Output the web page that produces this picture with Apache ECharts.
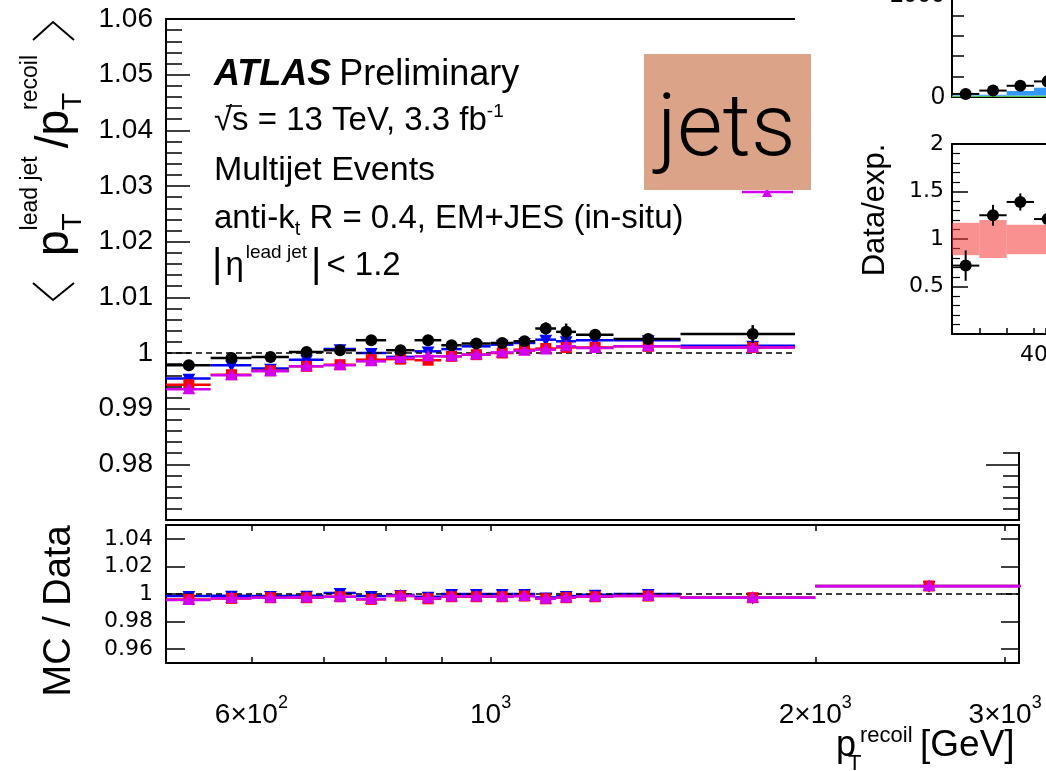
<!DOCTYPE html>
<html>
<head>
<meta charset="utf-8">
<script src="https://cdn.jsdelivr.net/npm/echarts@6/dist/echarts.min.js"></script>
<style>
html,body{margin:0;padding:0;background:#fff;}
#chart{width:1046px;height:771px;}
</style>
</head>
<body>
<div id="chart"></div>
<script>
// ---- bins of recoil pT [GeV] ----
const binEdges = [500, 550, 600, 650, 700, 750, 800, 850, 900, 940, 1000, 1050, 1100, 1150, 1200, 1300, 1500, 2000, 3100];

// ---- <pT lead jet / pT recoil> ----
const dataResponse = [0.9978, 0.9991, 0.9993, 1.0002, 1.0005, 1.0023, 1.0005, 1.0023, 1.0014, 1.0017, 1.0018, 1.0021, 1.0044, 1.0038, 1.0033, 1.0025, 1.0034];
const dataError    = [0.0004, 0.0004, 0.0004, 0.0005, 0.0005, 0.0009, 0.0005, 0.0008, 0.0005, 0.0005, 0.0005, 0.0006, 0.0011, 0.0015, 0.0009, 0.0007, 0.0016];
const mcBlueResponse    = [0.9954, 0.9978, 0.9972, 0.9988, 1.0007, 1.0000, 0.9993, 1.0003, 1.0007, 1.0012, 1.0015, 1.0018, 1.0024, 1.0021, 1.0023, 1.0023, 1.0013];
const mcRedResponse     = [0.9943, 0.9961, 0.9968, 0.9976, 0.9979, 0.9988, 0.9989, 0.9987, 0.9994, 0.9997, 1.0000, 1.0006, 1.0008, 1.0010, 1.0010, 1.0012, 1.0010];
const mcMagentaResponse = [0.9935, 0.9960, 0.9967, 0.9976, 0.9978, 0.9985, 0.9991, 0.9994, 0.9994, 0.9997, 1.0001, 1.0004, 1.0006, 1.0012, 1.0009, 1.0012, 1.0010];

// ---- MC / Data ----
const mcBlueRatio    = [0.9985, 0.9988, 0.9985, 0.9988, 1.0008, 0.9985, 0.9993, 0.9980, 1.0000, 1.0000, 1.0000, 1.0000, 0.9975, 0.9985, 0.9995, 1.0000, 0.9973, 1.0058];
const mcRedRatio     = [0.9960, 0.9968, 0.9973, 0.9973, 0.9980, 0.9961, 0.9985, 0.9965, 0.9980, 0.9980, 0.9980, 0.9985, 0.9965, 0.9973, 0.9980, 0.9985, 0.9973, 1.0058];
const mcMagentaRatio = [0.9956, 0.9970, 0.9973, 0.9975, 0.9980, 0.9963, 0.9987, 0.9968, 0.9982, 0.9982, 0.9981, 0.9985, 0.9966, 0.9975, 0.9981, 0.9986, 0.9973, 1.0057];

// ---- axis ticks ----
const ptTicks = [600, 700, 800, 900, 1000, 2000, 3000];
const ptLabelValues = [600, 1000, 2000, 3000];
const ptLabelText = { 600: ['6×10', '2'], 1000: ['10', '3'], 2000: ['2×10', '3'], 3000: ['3×10', '3'] };
const ratioTicks = [0.96, 0.98, 1, 1.02, 1.04];

// ---- small side panel (events and Data/exp.) ----
const sideEdges = [25, 30, 35, 40, 45];
const sideEvents = [30, 63, 110, 153];
const sideEventsErr = [6, 8, 11, 12];
const sideGreen = [12, 12, 14, 16];
const sideBlue = [5, 10, 45, 75];
const sideRatio = [0.72, 1.25, 1.39, 1.21];
const sideRatioErr = [0.16, 0.11, 0.09, 0.09];
const sideBandLow = [0.83, 0.80, 0.84, 0.84];
const sideBandHigh = [1.17, 1.20, 1.15, 1.15];
const sideCountLabels = [0, 1000];
const sideRatioLabels = [0.5, 1, 1.5, 2];

const FONT = '"Liberation Sans", Arial, Helvetica, sans-serif';
const WIDE = '"DejaVu Sans", sans-serif';
const BLUE = '#0000ff', RED = '#ff0000', MAG = '#d200f0', BLACK = '#000000';

const chart = echarts.init(document.getElementById('chart'), null, { renderer: 'canvas' });

function marker(kind, x, y, color, s) {
  if (kind === 'circle') return { type: 'circle', shape: { cx: x, cy: y, r: s / 2 }, style: { fill: color } };
  if (kind === 'square') return { type: 'rect', shape: { x: x - s / 2, y: y - s / 2, width: s, height: s }, style: { fill: color } };
  if (kind === 'up') return { type: 'polygon', shape: { points: [[x, y - s * 0.62], [x - s * 0.58, y + s * 0.45], [x + s * 0.58, y + s * 0.45]] }, style: { fill: color } };
  return { type: 'polygon', shape: { points: [[x, y + s * 0.62], [x - s * 0.58, y - s * 0.45], [x + s * 0.58, y - s * 0.45]] }, style: { fill: color } };
}

// binned points: horizontal bar over the bin, vertical error bar, marker at the bin centre
function binned(edges, values, errors, color, kind, xi, yi, z, size, lw) {
  const data = values.map((v, i) => [edges[i], edges[i + 1], (edges[i] + edges[i + 1]) / 2, v, errors ? errors[i] : 0]);
  return {
    type: 'custom', xAxisIndex: xi, yAxisIndex: yi, z: z, silent: true, animation: false,
    data: data, encode: { x: [0, 1], y: 3 },
    renderItem(params, api) {
      const y = api.value(3), xc = api.value(2), e = api.value(4);
      const a = api.coord([api.value(0), y]), b = api.coord([api.value(1), y]), c = api.coord([xc, y]);
      const kids = [{ type: 'line', shape: { x1: a[0], y1: a[1], x2: b[0], y2: b[1] }, style: { stroke: color, lineWidth: lw } }];
      if (e > 0) {
        const t = api.coord([xc, y + e]), d = api.coord([xc, y - e]);
        kids.push({ type: 'line', shape: { x1: c[0], y1: t[1], x2: c[0], y2: d[1] }, style: { stroke: color, lineWidth: lw } });
      }
      kids.push(marker(kind, c[0], c[1], color, size));
      return { type: 'group', children: kids };
    }
  };
}

// histogram boxes between two levels
function boxes(edges, lows, highs, fill, xi, yi, z) {
  const data = lows.map((l, i) => [edges[i], edges[i + 1], l, highs[i]]);
  return {
    type: 'custom', xAxisIndex: xi, yAxisIndex: yi, z: z, silent: true, animation: false,
    data: data, encode: { x: [0, 1], y: [2, 3] },
    renderItem(params, api) {
      const p0 = api.coord([api.value(0), api.value(3)]);
      const p1 = api.coord([api.value(1), api.value(2)]);
      return { type: 'rect', shape: { x: p0[0], y: p0[1], width: p1[0] - p0[0], height: p1[1] - p0[1] }, style: { fill: fill } };
    }
  };
}

function refLine(xi, yi, color, dash, z) {
  return {
    type: 'line', xAxisIndex: xi, yAxisIndex: yi, data: [], z: z, silent: true,
    markLine: { silent: true, symbol: 'none', label: { show: false }, animation: false,
      lineStyle: { color: color, type: dash, width: 1.6 }, data: [{ yAxis: 1 }] }
  };
}

// text laid out run by run (super/subscripts)
const mctx = document.createElement('canvas').getContext('2d');
function runs(x0, baseline, parts, z) {
  let x = x0, held = 0;
  const els = [];
  parts.forEach(p => {
    const fam = p.family || FONT, w = p.weight || 'normal', st = p.italic ? 'italic' : 'normal';
    mctx.font = st + ' ' + w + ' ' + p.size + 'px ' + fam;
    const width = mctx.measureText(p.text).width;
    const bl = baseline + (p.shift || 0);
    els.push({ type: 'text', z: z, x: x + (p.dx || 0), y: bl - 0.31 * p.size, silent: true,
      style: { text: p.text, fontSize: p.size, fontFamily: fam, fontWeight: w, fontStyle: st, fill: '#000', align: 'left', verticalAlign: 'middle' } });
    if (p.hold) { held = Math.max(held, width); }
    else { x += (p.dx || 0) + Math.max(width, held) + (p.gap || 0); held = 0; }
  });
  return els;
}

function yFmt(v) {
  const r = Math.round(v * 100) / 100;
  return String(r);
}

const axisLineBlack = { show: true, lineStyle: { color: '#000', width: 2 } };
const noTick = { show: false };
const noLabel = { show: false };

const xMain = { type: 'log', logBase: 10, min: 500, max: 3090, splitLine: { show: false }, axisLine: axisLineBlack };

const option = {
  animation: false,
  backgroundColor: '#fff',
  grid: [
    { left: 166, right: 27, top: 19, height: 501, outerBoundsMode: 'none', containLabel: false },
    { left: 166, right: 27, top: 525, height: 138, outerBoundsMode: 'none', containLabel: false },
    { left: 952, right: 0, top: -5, height: 102, outerBoundsMode: 'none', containLabel: false },
    { left: 952, right: 0, top: 144, height: 190, outerBoundsMode: 'none', containLabel: false }
  ],
  xAxis: [
    Object.assign({}, xMain, { gridIndex: 0, position: 'bottom', axisTick: noTick, axisLabel: noLabel }),
    Object.assign({}, xMain, { gridIndex: 0, position: 'top', axisTick: noTick, axisLabel: noLabel }),
    Object.assign({}, xMain, { gridIndex: 1, position: 'bottom',
      axisTick: { show: true, inside: true, length: 6, customValues: ptTicks, lineStyle: { color: '#000', width: 1.5 } },
      axisLabel: { show: true, customValues: ptLabelValues, margin: 31, color: '#000',
        formatter: v => { const t = ptLabelText[Math.round(v)]; return t ? '{m|' + t[0] + '}{s|' + t[1] + '}' : ''; },
        rich: { m: { fontSize: 28, fontFamily: FONT, color: '#000', lineHeight: 35, verticalAlign: 'bottom' },
                s: { fontSize: 18, fontFamily: FONT, color: '#000', lineHeight: 18, verticalAlign: 'top' } } } }),
    Object.assign({}, xMain, { gridIndex: 1, position: 'top',
      axisTick: { show: true, inside: true, length: 6, customValues: ptTicks, lineStyle: { color: '#000', width: 1.5 } },
      axisLabel: noLabel }),
    { type: 'value', gridIndex: 2, min: 25, max: 42.2, z: 60, splitLine: { show: false }, axisLine: axisLineBlack, axisTick: noTick, axisLabel: noLabel },
    { type: 'value', gridIndex: 3, min: 25, max: 42.2, interval: 5, z: 60, position: 'bottom', splitLine: { show: false }, axisLine: axisLineBlack,
      axisTick: { show: true, inside: true, length: 6, lineStyle: { color: '#000', width: 1.5 } },
      axisLabel: { show: true, customValues: [40], margin: 10, fontSize: 22, fontFamily: WIDE, color: '#000' } },
    { type: 'value', gridIndex: 3, min: 25, max: 42.2, z: 60, position: 'top', splitLine: { show: false }, axisLine: axisLineBlack, axisTick: noTick, axisLabel: noLabel }
  ],
  yAxis: [
    { type: 'value', gridIndex: 0, position: 'left', min: 0.97, max: 1.06, interval: 0.01, splitLine: { show: false }, axisLine: axisLineBlack,
      axisTick: { show: true, inside: true, length: 24, lineStyle: { color: '#000', width: 1.5 } },
      minorTick: { show: true, splitNumber: 5, length: 16, lineStyle: { color: '#000', width: 1.5 } },
      axisLabel: { show: true, margin: 13, fontSize: 28, fontFamily: FONT, color: '#000',
        formatter: v => (v < 0.975 ? '' : yFmt(v)) } },
    { type: 'value', gridIndex: 0, position: 'right', min: 0.97, max: 1.06, interval: 0.01, splitLine: { show: false }, axisLine: axisLineBlack,
      axisTick: { show: true, inside: true, length: 33, lineStyle: { color: '#000', width: 1.5 } },
      minorTick: { show: true, splitNumber: 5, length: 16, lineStyle: { color: '#000', width: 1.5 } },
      axisLabel: noLabel },
    { type: 'value', gridIndex: 1, position: 'left', min: 0.95, max: 1.05, splitLine: { show: false }, axisLine: axisLineBlack,
      axisTick: { show: true, inside: true, length: 19, customValues: ratioTicks, lineStyle: { color: '#000', width: 1.5 } },
      axisLabel: { show: true, customValues: ratioTicks, margin: 13, fontSize: 22, fontFamily: WIDE, color: '#000', formatter: v => yFmt(v) } },
    { type: 'value', gridIndex: 1, position: 'right', min: 0.95, max: 1.05, splitLine: { show: false }, axisLine: axisLineBlack,
      axisTick: { show: true, inside: true, length: 18, customValues: ratioTicks, lineStyle: { color: '#000', width: 1.5 } },
      axisLabel: noLabel },
    { type: 'value', gridIndex: 2, min: 0, max: 1000, interval: 200, z: 60, splitLine: { show: false }, axisLine: axisLineBlack,
      axisTick: { show: true, inside: true, length: 12, lineStyle: { color: '#000', width: 1.5 } },
      axisLabel: { show: true, customValues: sideCountLabels, margin: 7, fontSize: 25, fontFamily: FONT, color: '#000', formatter: v => String(v) } },
    { type: 'value', gridIndex: 3, min: 0, max: 2, interval: 0.5, z: 60, splitLine: { show: false }, axisLine: axisLineBlack,
      axisTick: { show: true, inside: true, length: 16, lineStyle: { color: '#000', width: 1.5 } },
      minorTick: { show: true, splitNumber: 5, length: 8, lineStyle: { color: '#000', width: 1.2 } },
      axisLabel: { show: true, customValues: sideRatioLabels, margin: 8, fontSize: 22, fontFamily: WIDE, color: '#000', formatter: v => String(v) } }
  ],
  series: [
    refLine(0, 0, '#000', [6, 4], 3),
    binned(binEdges, mcBlueResponse, null, BLUE, 'down', 0, 0, 4, 11, 2.5),
    binned(binEdges, mcRedResponse, null, RED, 'square', 0, 0, 5, 11, 2.5),
    binned(binEdges, mcMagentaResponse, null, MAG, 'up', 0, 0, 6, 11, 2.5),
    binned(binEdges, dataResponse, dataError, BLACK, 'circle', 0, 0, 7, 12, 2.5),

    refLine(2, 2, '#000', [6, 4], 3),
    binned(binEdges, mcBlueRatio, null, BLUE, 'down', 2, 2, 4, 11, 2.5),
    binned(binEdges, mcRedRatio, null, RED, 'square', 2, 2, 5, 11, 2.5),
    binned(binEdges, mcMagentaRatio, null, MAG, 'up', 2, 2, 6, 11, 2.5),

    boxes(sideEdges, [0, 0, 0, 0], sideGreen, '#4fbf4f', 4, 4, 61),
    boxes(sideEdges, sideGreen, sideGreen.map((g, i) => g + sideBlue[i]), '#3399ff', 4, 4, 61),
    binned(sideEdges, sideEvents, sideEventsErr, BLACK, 'circle', 4, 4, 62, 12, 2),

    boxes(sideEdges, sideBandLow, sideBandHigh, 'rgba(245,55,55,0.55)', 5, 5, 61),
    refLine(5, 5, '#ff0000', [5, 4], 62),
    binned(sideEdges, sideRatio, sideRatioErr, BLACK, 'circle', 5, 5, 63, 12, 2)
  ],
  graphic: []
};

const g = [];

// panel covering the upper right corner
g.push({ type: 'rect', z: 50, silent: true, shape: { x: 795, y: 0, width: 251, height: 452 }, style: { fill: '#fff' } });

// text block
g.push(...runs(214, 86, [
  { text: 'ATLAS', size: 36, weight: 'bold', italic: true, gap: 8 },
  { text: 'Preliminary', size: 36 }
], 10));
g.push(...runs(214, 131, [
  { text: '√s = 13 TeV, 3.3 fb', size: 33 },
  { text: '-1', size: 19, shift: -13 }
], 10));
g.push({ type: 'line', z: 10, silent: true, shape: { x1: 226, y1: 106, x2: 242, y2: 106 }, style: { stroke: '#000', lineWidth: 1.6 } });
g.push(...runs(214, 181, [{ text: 'Multijet Events', size: 34 }], 10));
g.push(...runs(214, 229, [
  { text: 'anti-k', size: 33 },
  { text: 't', size: 20, shift: 7 },
  { text: ' R = 0.4, EM+JES (in-situ)', size: 33 }
], 10));
g.push(...runs(212, 276, [
  { text: '|', size: 40, shift: 2, gap: 3 },
  { text: 'η', size: 33, gap: 2 },
  { text: 'lead jet', size: 19, shift: -17, gap: 4 },
  { text: '|', size: 40, shift: 2, gap: 5 },
  { text: '< 1.2', size: 33 }
], 10));

// y title of the response panel (rotated)
const yTitle = runs(0, 0, [
  { text: 'p', size: 46, dx: 47 },
  { text: 'T', size: 28, shift: 12, hold: true },
  { text: 'lead jet', size: 23, shift: -32, gap: 8 },
  { text: '/p', size: 46 },
  { text: 'T', size: 28, shift: 12, hold: true },
  { text: 'recoil', size: 23, shift: -32 }
], 10);
g.push({ type: 'group', x: 70, y: 303, rotation: Math.PI / 2, silent: true, children: yTitle });
g.push({ type: 'polyline', z: 10, silent: true, shape: { points: [[33, 283], [53, 300], [74, 283]] }, style: { stroke: '#000', lineWidth: 2, fill: null } });
g.push({ type: 'polyline', z: 10, silent: true, shape: { points: [[33, 40], [53, 22], [74, 40]] }, style: { stroke: '#000', lineWidth: 2, fill: null } });

// y title of the ratio panel
g.push({ type: 'text', z: 10, x: 60, y: 611, rotation: Math.PI / 2, silent: true,
  style: { text: 'MC / Data', fontSize: 38, fontFamily: FONT, fill: '#000', align: 'center', verticalAlign: 'middle' } });

// x title
g.push(...runs(836, 757, [{ text: 'p', size: 36 }], 10));
g.push(...runs(848, 771, [{ text: 'T', size: 22 }], 10));
g.push(...runs(860, 743, [{ text: 'recoil', size: 22 }], 10));
g.push(...runs(920, 757, [{ text: '[GeV]', size: 37 }], 10));

// side panel title
g.push({ type: 'text', z: 70, x: 875, y: 210, rotation: Math.PI / 2, silent: true,
  style: { text: 'Data/exp.', fontSize: 31, fontFamily: FONT, fill: '#000', align: 'center', verticalAlign: 'middle' } });

// legend entry peeking below the label box
g.push({ type: 'line', z: 79, silent: true, shape: { x1: 742, y1: 192, x2: 793, y2: 192 }, style: { stroke: MAG, lineWidth: 2.5 } });
g.push({ type: 'polygon', z: 79, silent: true, shape: { points: [[767, 188], [762, 197], [772, 197]] }, style: { fill: MAG } });

// "jets" label box
g.push({ type: 'rect', z: 80, silent: true, shape: { x: 644, y: 54, width: 167, height: 136 }, style: { fill: '#dba387' } });
g.push({ type: 'text', z: 81, x: 657, y: 160 - 0.31 * 88, silent: true,
  style: { text: 'jets', fontSize: 88, fontFamily: 'Roboto, "Open Sans", sans-serif', fontWeight: 300, fill: '#000', align: 'left', verticalAlign: 'middle' } });

option.graphic = g;
chart.setOption(option);
</script>
</body>
</html>
